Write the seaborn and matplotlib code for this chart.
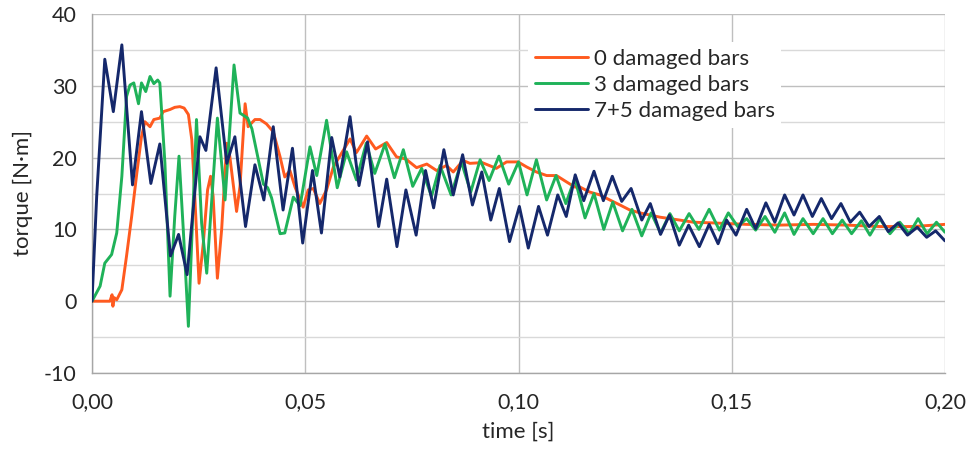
import numpy as np
import pandas as pd
import matplotlib
matplotlib.use("Agg")
import matplotlib.pyplot as plt
from matplotlib.ticker import MultipleLocator, FuncFormatter
import seaborn as sns

# ---- data (time in ms, torque in N·m) ----
t_0 = [0, 4.2, 4.7, 4.9, 5.2, 5.8, 7.0, 8.1, 9.3, 10.5, 11.6, 12.4, 13.6, 14.5, 15.9, 16.7, 18.3, 19.4,
       20.6, 21.6, 22.6, 23.4, 24.1, 25.1, 26.1, 27.1, 27.8, 28.4, 29.4, 30.4, 31.6, 32.3, 33.9, 34.7,
       35.9, 36.6, 38.2, 39.4, 40.9, 42.5, 44.1, 45.2, 46.4, 47.6, 49.5, 50.7, 51.9, 53.4, 55.0, 56.6,
       58.5, 60.5, 62.0, 64.4, 66.5, 69.1, 71.4, 73.6, 76.1, 78.5, 80.8, 83.1, 84.7, 87.0, 88.6, 91.5,
       94.8, 97.2, 99.9, 101.9, 104.2, 106.6, 108.9, 111.3, 113.2, 114.4, 116.7, 119.1, 121.4, 123.8,
       126.1, 128.5, 130.8, 133.2, 135.5, 137.8, 141.0, 145.7, 153.5, 161.3, 169.1, 176.9, 184.7, 192.5, 200.0]
v_0 = [0, 0, 0.9, -0.7, 0.5, 0.2, 1.6, 6.3, 11.8, 17.8, 22.9, 25.0, 24.3, 25.3, 25.5, 26.4, 26.7, 27.0,
       27.1, 26.9, 26.0, 22.5, 14.6, 2.5, 8.1, 15.5, 17.4, 14.6, 3.2, 10.0, 22.0, 20.2, 12.5, 16.0,
       27.5, 24.3, 25.3, 25.3, 24.7, 23.6, 20.1, 17.3, 18.2, 15.9, 13.1, 15.5, 15.7, 13.6, 15.5, 18.7,
       20.6, 22.6, 20.7, 23.0, 21.2, 22.1, 20.1, 19.8, 18.6, 19.1, 18.2, 18.9, 18.0, 19.6, 19.2, 19.3,
       18.5, 19.4, 19.4, 18.7, 18.0, 17.5, 17.5, 16.6, 15.9, 15.9, 15.2, 14.8, 14.1, 13.4,
       12.7, 12.3, 12.0, 11.7, 11.5, 11.3, 11.0, 10.9, 10.7, 10.6, 10.7, 10.6, 10.4, 10.4, 10.7]

t_3 = [0, 1.9, 3.0, 4.6, 5.8, 7.0, 8.1, 8.9, 9.8, 10.9, 11.6, 12.6, 13.6, 14.5, 15.4, 15.9, 17.1, 18.3,
       19.4, 20.4, 21.4, 22.6, 24.5, 25.7, 26.9, 29.4, 31.2, 33.3, 34.7, 36.5, 37.5, 40.2, 41.2, 42.1,
       44.1, 45.2, 47.2, 48.8, 51.1, 52.7, 55.0, 57.5, 59.7, 62.0, 64.3, 66.3, 68.7, 70.9, 73.0, 75.2,
       77.3, 79.6, 81.6, 84.2, 86.6, 88.8, 91.0, 93.1, 95.4, 97.7, 100.0, 102.0, 104.2, 106.6, 108.8,
       111.1, 113.2, 115.6, 117.7, 120.0, 122.1, 124.4, 126.6, 128.9, 131.1, 133.3, 135.5, 137.7, 140.0,
       142.3, 144.7, 147.1, 149.2, 151.4, 153.5, 155.6, 157.8, 160.1, 162.4, 164.6, 166.7, 169.1, 171.4,
       173.6, 175.9, 178.1, 180.4, 182.4, 184.7, 187.1, 189.4, 191.6, 193.7, 195.8, 198.0, 200.0]
v_3 = [0, 2.1, 5.3, 6.5, 9.5, 17.4, 28.5, 30.1, 30.4, 27.5, 30.4, 29.2, 31.3, 30.3, 30.8, 30.4, 19.2, 0.7,
       11.8, 20.2, 10.0, -3.5, 25.3, 10.9, 3.9, 25.5, 14.1, 32.9, 26.2, 25.5, 24.0, 16.3, 15.8, 14.4,
       9.4, 9.5, 14.5, 13.3, 21.5, 17.5, 25.2, 15.8, 20.8, 16.9, 22.0, 17.8, 21.9, 17.2, 21.1, 16.0,
       18.5, 14.6, 18.9, 14.8, 19.4, 15.2, 19.7, 16.8, 20.2, 16.3, 19.4, 14.8, 19.7, 14.1, 17.5,
       13.6, 17.1, 11.6, 15.0, 10.0, 13.8, 9.8, 12.8, 9.1, 12.3, 9.5, 12.2, 9.8, 12.2,
       10.0, 12.8, 9.9, 12.3, 10.4, 11.5, 9.9, 11.8, 9.6, 12.3, 9.3, 11.5, 9.4, 11.5,
       9.4, 11.3, 9.4, 11.2, 9.2, 11.5, 9.4, 11.0, 9.4, 11.5, 9.4, 11.0, 9.6]

t_75 = [0, 1.1, 3.0, 5.0, 7.0, 9.5, 11.6, 13.8, 15.9, 18.4, 20.3, 22.3, 25.3, 26.7, 29.1, 31.6, 33.5,
        36.0, 38.2, 40.3, 42.5, 44.8, 47.0, 49.4, 51.7, 53.8, 56.2, 58.1, 60.5, 62.6, 64.6, 67.2, 69.1,
        71.5, 73.6, 76.0, 78.2, 80.1, 82.5, 84.7, 86.9, 89.2, 91.4, 93.5, 95.5, 97.9, 100.2, 102.3, 104.7,
        106.8, 109.2, 111.2, 113.3, 115.3, 117.7, 119.9, 122.0, 124.2, 126.4, 128.9, 130.9, 133.3, 135.4,
        137.7, 139.9, 142.4, 144.7, 146.8, 148.8, 151.0, 153.5, 155.6, 158.0, 160.1, 162.4, 164.6, 166.7,
        168.9, 171.0, 173.4, 175.6, 177.8, 180.0, 182.2, 184.6, 186.7, 189.0, 191.2, 193.5, 195.7, 197.8, 200.0]
v_75 = [0, 14.6, 33.7, 26.4, 35.7, 16.2, 26.4, 16.4, 21.9, 6.3, 9.3, 3.7, 22.9, 21.0, 32.5, 19.2, 22.9,
        10.4, 19.0, 14.1, 24.3, 12.7, 21.3, 8.1, 18.2, 9.5, 22.8, 17.3, 25.7, 16.1, 22.2, 10.4, 17.0,
        7.6, 15.5, 9.2, 18.2, 13.0, 21.1, 14.8, 20.4, 13.4, 18.0, 11.3, 15.7, 8.3, 13.2, 7.4, 13.2,
        9.2, 14.8, 11.8, 17.6, 14.0, 18.1, 14.0, 17.4, 13.9, 15.7, 11.3, 13.6, 9.3, 12.0,
        7.8, 10.6, 7.6, 10.7, 8.0, 11.3, 9.2, 12.8, 10.1, 13.7, 11.0, 14.8, 12.0, 14.8,
        11.8, 14.3, 11.5, 13.6, 11.0, 12.4, 10.4, 11.8, 9.7, 10.9, 9.2, 10.3, 8.9, 9.8, 8.4]

series_names = ["0 damaged bars", "3 damaged bars", "7+5 damaged bars"]
series_colors = ["#FF5A1F", "#1FB259", "#15286B"]

y_ticks = [-10, 0, 10, 20, 30, 40]
x_ticks = [0.00, 0.05, 0.10, 0.15, 0.20]

# ---- build table ----
frames = []
for name, tt, vv in zip(series_names, [t_0, t_3, t_75], [v_0, v_3, v_75]):
    frames.append(pd.DataFrame({"time": np.array(tt) / 1000.0, "torque": vv, "series": name}))
df = pd.concat(frames, ignore_index=True)

sns.set_theme(style="white")
plt.rcParams["font.family"] = ["Lato", "DejaVu Sans"]

fig = plt.figure(figsize=(9.75, 4.49), dpi=100)
ax = fig.add_axes([92 / 975, 1 - 373 / 449, (945 - 92) / 975, (373 - 14) / 449])

palette = dict(zip(series_names, series_colors))
for name in series_names:
    sns.lineplot(data=df[df["series"] == name], x="time", y="torque", color=palette[name],
                 linewidth=2.1, sort=False, estimator=None, ax=ax, label=name, zorder=3,
                 solid_joinstyle="round", solid_capstyle="round")

ax.set_xlim(0, 0.20)
ax.set_ylim(-10, 40)
ax.set_xticks(x_ticks)
ax.set_yticks(y_ticks)
ax.yaxis.set_minor_locator(MultipleLocator(5))
ax.xaxis.set_major_formatter(FuncFormatter(lambda v, p: f"{v:.2f}".replace(".", ",")))
ax.yaxis.set_major_formatter(FuncFormatter(lambda v, p: f"{v:.0f}"))

ax.grid(which="major", axis="both", color="#bfbfbf", linewidth=1.0, zorder=0)
ax.grid(which="minor", axis="y", color="#d9d9d9", linewidth=1.0, zorder=0)
ax.set_axisbelow(True)

for s in ["top", "right"]:
    ax.spines[s].set_visible(False)
for s in ["left", "bottom"]:
    ax.spines[s].set_color("#a6a6a6")
    ax.spines[s].set_linewidth(1.0)

ax.tick_params(axis="both", which="major", direction="out", length=6, width=1.0,
               color="#a6a6a6", labelsize=15.5, labelcolor="#262626", pad=5)
ax.tick_params(axis="y", which="minor", length=0)
ax.tick_params(axis="x", pad=8)

ax.set_xlabel("time [s]", fontsize=16, color="#262626", labelpad=7)
ax.set_ylabel("torque [N·m]", fontsize=16, color="#262626", labelpad=8)

leg = ax.legend(loc="upper left", bbox_to_anchor=(528 / 975, 1 - 42 / 449),
                bbox_transform=fig.transFigure, frameon=True, fontsize=16,
                handlelength=2.4, handletextpad=0.25, labelspacing=0.28,
                borderpad=0.3, borderaxespad=0, fancybox=False)
leg.get_frame().set_facecolor("white")
leg.get_frame().set_edgecolor("none")
leg.get_frame().set_alpha(1.0)
for txt in leg.get_texts():
    txt.set_color("#262626")
for line in leg.get_lines():
    line.set_linewidth(2.1)

fig.savefig("out.png", dpi=100, facecolor="white")
